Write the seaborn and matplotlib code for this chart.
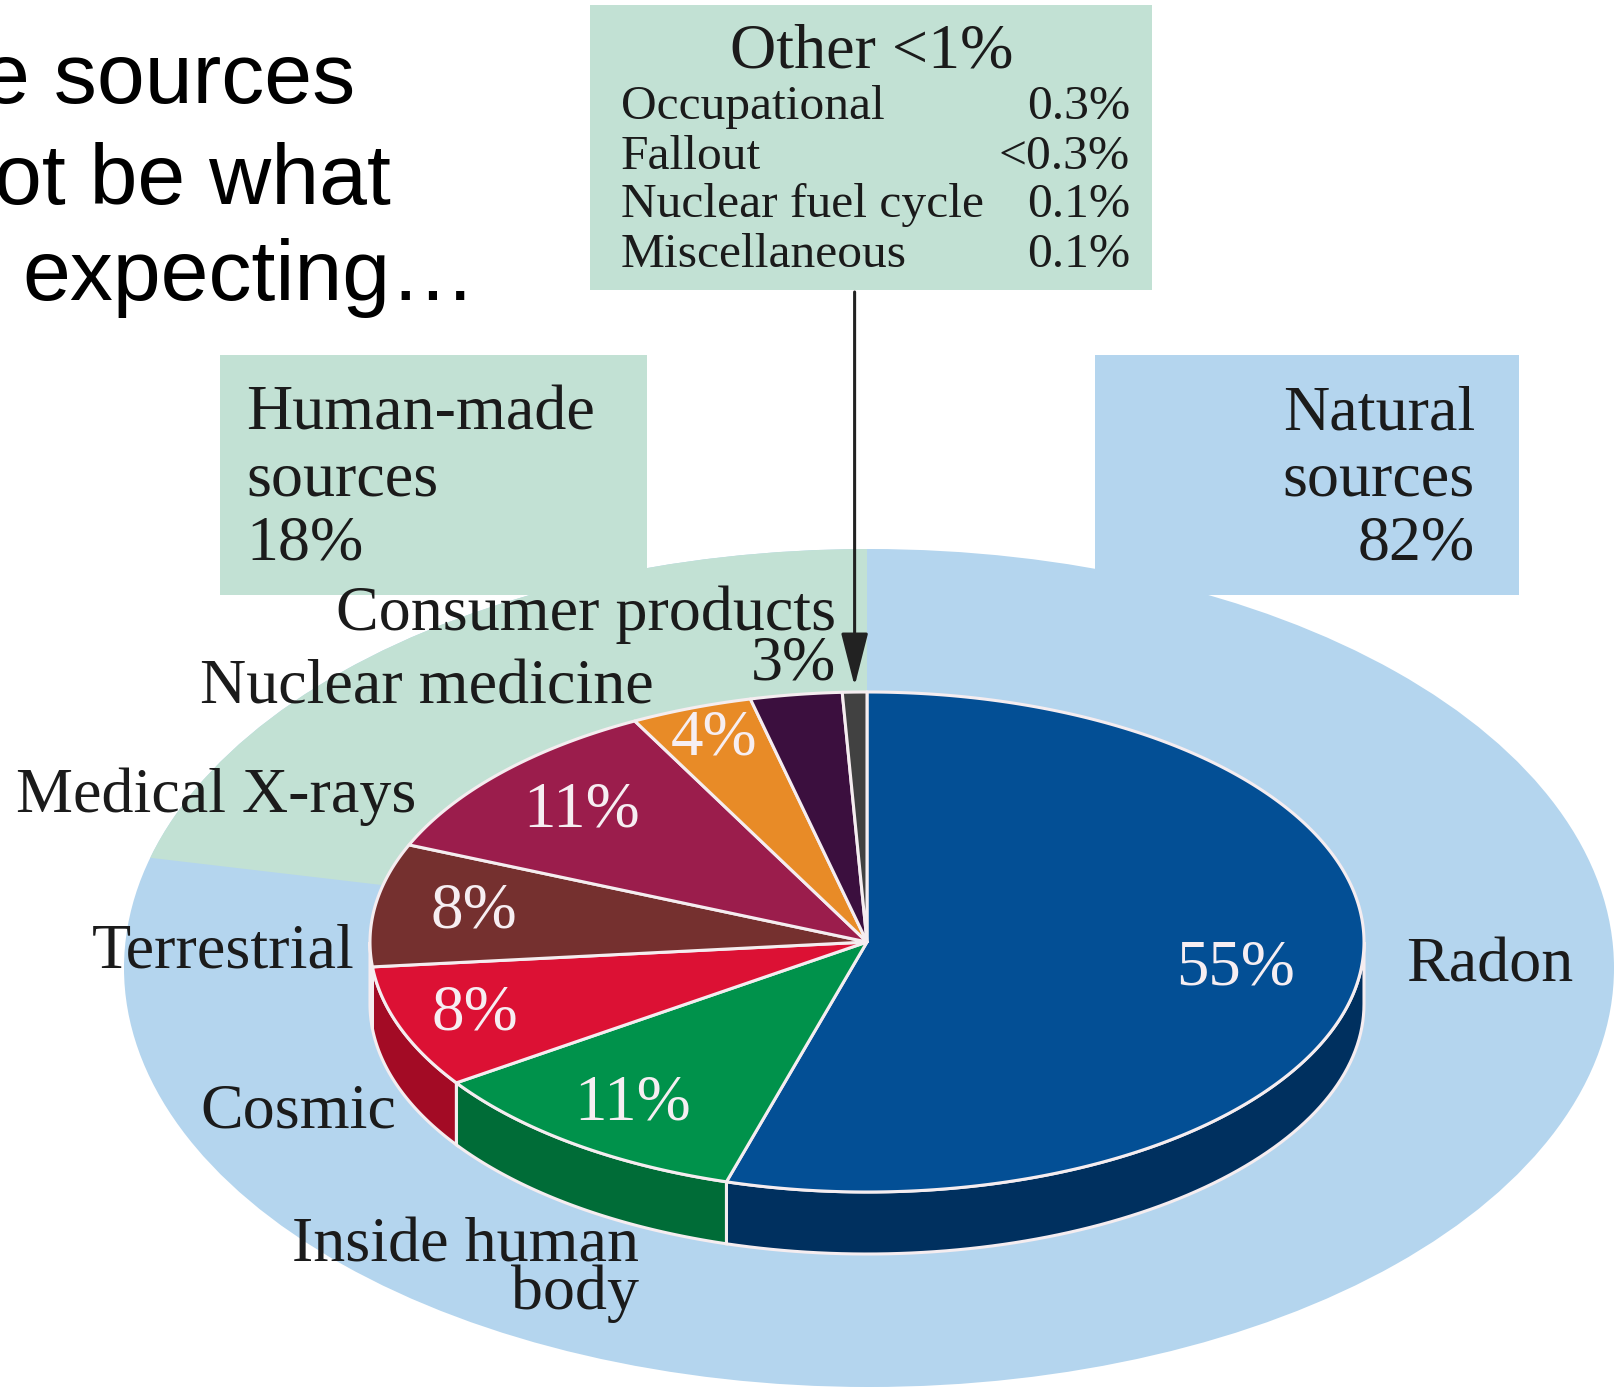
import numpy as np
import matplotlib
matplotlib.use("Agg")
import matplotlib.pyplot as plt
from matplotlib.patches import Polygon, Rectangle, Ellipse
import seaborn as sns

# ---------------------------------------------------------------- data
sources = ["Radon", "Inside human body", "Cosmic", "Terrestrial",
           "Medical X-rays", "Nuclear medicine", "Consumer products", "Other"]
shares = [55, 11, 8, 8, 11, 4, 3, 0.8]
is_natural = [True, True, True, True, False, False, False, False]

other_items = ["Occupational", "Fallout", "Nuclear fuel cycle", "Miscellaneous"]
other_values = ["0.3%", "<0.3%", "0.1%", "0.1%"]
other_title = "Other <1%"

natural_total = 82
human_total = 18

headline = ["e sources", "ot be what", "expecting\u2026"]

# ---------------------------------------------------------------- style
top_colors = ["#034f95", "#00924b", "#dc1134", "#75302f",
              "#9b1d4c", "#e88b27", "#3b0f3e", "#414141"]
side_colors = ["#00305f", "#006c37", "#a30b25", "#5a2222",
               "#701236", "#b56a1c", "#2a0a2c", "#2c2c2c"]
pct_radius = [0.75, 0.80, 0.84, 0.80, 0.78, 0.87, 0.0, 0.0]

BLUE_BG = "#b4d5ee"
GREEN_BG = "#c2e1d4"
EDGE = "#f5edf0"
INK = "#1b1b1b"

sns.set_theme(style="white")
plt.rcParams["font.family"] = ["Liberation Serif", "DejaVu Serif"]

W, H = 1623, 1393
CX, CY, RX, RY, DEPTH = 867, 942, 497, 250, 62          # pie top face
BCX, BCY, BRX, BRY = 869, 968, 745, 419                  # backdrop disc
SPLIT_DEG = 173.3                                        # backdrop split ray

fig = plt.figure(figsize=(W / 100, H / 100), dpi=100)
ax = fig.add_axes([0, 0, 1, 1])
ax.set_xlim(0, W)
ax.set_ylim(H, 0)
ax.axis("off")


def rim(t_deg, dy=0.0):
    t = np.radians(t_deg)
    return CX + RX * np.cos(t), CY - RY * np.sin(t) + dy


def px(size):
    return size * 0.72


# ---------------------------------------------------------------- backdrop
ax.add_patch(Ellipse((BCX, BCY), 2 * BRX, 2 * BRY, color=BLUE_BG, lw=0, zorder=1))
green = Ellipse((BCX, BCY), 2 * BRX, 2 * BRY, color=GREEN_BG, lw=0, zorder=1.1)
ax.add_patch(green)
ang = np.radians(np.linspace(90, SPLIT_DEG, 60))
clip_pts = [(CX, CY)] + [(CX + 3000 * np.cos(a), CY - 3000 * np.sin(a)) for a in ang]
clip = Polygon(clip_pts, closed=True, transform=ax.transData, visible=False)
ax.add_patch(clip)
green.set_clip_path(clip)

# category boxes
ax.add_patch(Rectangle((220, 355), 427, 240, color=GREEN_BG, lw=0, zorder=1.2))
ax.add_patch(Rectangle((1095, 355), 424, 240, color=BLUE_BG, lw=0, zorder=1.2))
ax.add_patch(Rectangle((590, 5), 562, 285, color=GREEN_BG, lw=0, zorder=1.2))

# ---------------------------------------------------------------- 3-D pie
total = float(sum(shares))
start = 90.0
spans = []
for v in shares:
    sweep = v / total * 360.0
    spans.append((start - sweep, start))
    start -= sweep

# side walls (front half only)
for (t1, t0), c in zip(spans, side_colors):
    lo, hi = max(t1, -180.0), min(t0, 0.0)
    if lo >= hi:
        continue
    ts = np.linspace(hi, lo, 80)
    xs, ys = rim(ts)
    xb, yb = rim(ts[::-1], DEPTH)
    pts = np.column_stack([np.r_[xs, xb], np.r_[ys, yb]])
    ax.add_patch(Polygon(pts, closed=True, fc=c, ec=EDGE, lw=2.2, zorder=3))

# top faces
mids = []
for (t1, t0), c in zip(spans, top_colors):
    ts = np.linspace(t0, t1, max(int((t0 - t1) * 2), 4))
    xs, ys = rim(ts)
    pts = np.column_stack([np.r_[CX, xs], np.r_[CY, ys]])
    ax.add_patch(Polygon(pts, closed=True, fc=c, ec=EDGE, lw=2.2,
                         joinstyle="round", zorder=4))
    mids.append((t0 + t1) / 2)

# value labels on the slices
for v, m, r in zip(shares, mids, pct_radius):
    if r <= 0:
        continue
    t = np.radians(m)
    ax.text(CX + r * RX * np.cos(t), CY - r * RY * np.sin(t), f"{v:.0f}%",
            color="#f6eef2", fontsize=px(65), ha="center", va="center", zorder=6)

# ---------------------------------------------------------------- names
lab = dict(color=INK, fontsize=px(64), va="baseline", zorder=6)
ax.text(1406, 981, sources[0], ha="left", **lab)
ax.text(639, 1309, "Inside human\nbody", ha="right", multialignment="right",
        linespacing=0.76, **lab)
ax.text(396, 1128, sources[2], ha="right", **lab)
ax.text(355, 968, sources[3], ha="right", **lab)
ax.text(16, 812, sources[4], ha="left", **lab)
ax.text(654, 704, sources[5], ha="right", **lab)
ax.text(836, 680, f"{sources[6]}\n{shares[6]:.0f}%", ha="right",
        multialignment="right", linespacing=0.81, **lab)

# group totals
grp = dict(color=INK, fontsize=px(64), va="baseline", zorder=6)
for y, s in zip([430, 495, 559], ["Human-made", "sources", f"{human_total}%"]):
    ax.text(246, y, s, ha="left", **grp)
for y, s in zip([430, 495, 559], ["Natural", "sources", f"{natural_total}%"]):
    ax.text(1475, y, s, ha="right", **grp)

# breakdown of the smallest slice
ax.text(872, 67, other_title, ha="center", color=INK, fontsize=px(64),
        va="baseline", zorder=6)
for y, name, val in zip([119, 169, 217, 267], other_items, other_values):
    ax.text(621, y, name, ha="left", color=INK, fontsize=px(49.5), va="baseline", zorder=6)
    ax.text(1130, y, val, ha="right", color=INK, fontsize=px(49.5), va="baseline", zorder=6)

# pointer from the breakdown box to the slice
ox, oy = rim(mids[-1])
ax.annotate("", xy=(ox, oy - 6), xytext=(ox, 292),
            arrowprops=dict(arrowstyle="-|>,head_length=1.1,head_width=0.28",
                            color="#222222", lw=2.2, mutation_scale=30,
                            shrinkA=0, shrinkB=0), zorder=7)

# ---------------------------------------------------------------- headline
sans = dict(family=["Liberation Sans", "DejaVu Sans"], color="black",
            fontsize=px(86), va="baseline")
ax.text(355, 103, headline[0], ha="right", **sans)
ax.text(391, 204, headline[1], ha="right", **sans)
ax.text(22, 300, headline[2], ha="left", **sans)

fig.savefig("out.png", dpi=100, facecolor="white")
